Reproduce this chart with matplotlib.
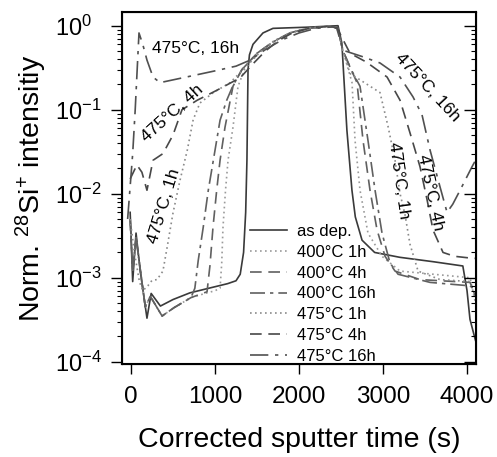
import matplotlib
matplotlib.use('Agg')
import matplotlib.pyplot as plt

plt.rcParams['font.family'] = ['Liberation Sans', 'DejaVu Sans']
plt.rcParams['mathtext.fontset'] = 'custom'
plt.rcParams['mathtext.rm'] = 'Liberation Sans'
plt.rcParams['mathtext.default'] = 'regular'
plt.rcParams['axes.unicode_minus'] = False

# sputter time (s) and normalised 28Si+ intensity
t_asdep = [-10, 20, 60, 110, 190, 240, 350, 500, 700, 950, 1150, 1250, 1300, 1340, 1365,
           1380, 1393, 1410, 1452, 1571, 1690, 2095, 2464, 2510, 2570, 2630, 2670, 2750,
           2900, 3200, 3600, 3950, 4000, 4035, 4100]
y_asdep = [6e-3, 9e-4, 3.4e-3, 1.2e-3, 3.3e-4, 6.5e-4, 4.6e-4, 5.5e-4, 6.6e-4, 7.6e-4, 8.5e-4,
           9.2e-4, 1.1e-3, 2e-3, 6e-3, 0.025, 0.3, 0.45, 0.6, 0.82, 0.93, 0.96, 1.0, 0.62,
           0.057, 0.011, 5.3e-3, 2.8e-3, 2.0e-3, 1.75e-3, 1.55e-3, 1.38e-3, 7e-4, 3.2e-4, 1.8e-4]

t_400_1h = [-10, 20, 60, 100, 170, 230, 370, 512, 714, 905, 1000, 1060, 1080, 1095, 1125, 1155,
            1214, 1274, 1350, 1500, 1690, 1890, 2100, 2330, 2460, 2524, 2631, 2667, 2726, 2821,
            2988, 3202, 4036, 4100]
y_400_1h = [5e-3, 1.2e-3, 3e-3, 1.5e-3, 4.5e-4, 6e-4, 3.5e-4, 4.4e-4, 5.8e-4, 6.6e-4, 7e-4,
            7.5e-4, 1.5e-3, 4e-3, 0.011, 0.025, 0.062, 0.19, 0.3, 0.47, 0.64, 0.82, 0.93, 0.98,
            0.96, 0.5, 0.21, 0.043, 0.011, 3.4e-3, 1.8e-3, 1.2e-3, 1e-3, 5e-4]

t_400_4h = [-10, 20, 60, 100, 170, 230, 370, 512, 714, 905, 940, 976, 1020, 1060, 1119, 1214,
            1320, 1500, 1690, 1890, 2100, 2330, 2460, 2524, 2690, 2762, 2845, 2929, 3024, 3143,
            3440, 4036, 4100]
y_400_4h = [5e-3, 1.2e-3, 3e-3, 1.5e-3, 4.5e-4, 6e-4, 3.5e-4, 4.4e-4, 5.8e-4, 6.8e-4, 1.4e-3,
            4e-3, 0.011, 0.025, 0.062, 0.19, 0.3, 0.47, 0.64, 0.82, 0.93, 0.98, 0.95, 0.5, 0.21,
            0.043, 0.011, 3.7e-3, 1.8e-3, 1.2e-3, 9.5e-4, 8.8e-4, 6e-4]

t_400_16h = [-10, 20, 60, 100, 170, 230, 370, 512, 714, 760, 800, 860, 920, 980, 1060, 1140,
             1210, 1320, 1500, 1690, 1890, 2100, 2330, 2460, 2524, 2620, 2726, 2821, 2905, 2988,
             3083, 3179, 3560, 4036, 4100]
y_400_16h = [5e-3, 1.2e-3, 3e-3, 1.5e-3, 4.5e-4, 6e-4, 3.5e-4, 4.4e-4, 5.8e-4, 7.5e-4, 1.6e-3,
             4e-3, 0.011, 0.025, 0.075, 0.13, 0.19, 0.3, 0.47, 0.64, 0.82, 0.93, 0.98, 0.93, 0.5,
             0.3, 0.19, 0.043, 0.011, 3.4e-3, 1.5e-3, 1.1e-3, 8.8e-4, 8e-4, 7e-4]

t_475_1h = [-10, 40, 100, 140, 200, 250, 310, 380, 430, 500, 580, 670, 740, 820, 980, 1180,
            1400, 1550, 1700, 1890, 2100, 2330, 2450, 2524, 2607, 2964, 3060, 3143, 3202, 3262,
            3321, 3417, 3679, 4036]
y_475_1h = [5e-3, 2e-3, 9e-4, 7e-4, 8e-4, 9.3e-4, 9.5e-4, 1.2e-3, 2.3e-3, 5.9e-3, 0.014, 0.033,
            0.076, 0.12, 0.16, 0.21, 0.35, 0.5, 0.66, 0.82, 0.93, 0.98, 0.95, 0.5, 0.27, 0.16,
            0.063, 0.025, 0.0101, 0.0056, 0.0025, 0.0012, 9.5e-4, 9e-4]

t_475_4h = [-10, 70, 130, 190, 262, 380, 500, 607, 790, 1020, 1300, 1450, 1600, 1750, 1900,
            2100, 2330, 2450, 2607, 2800, 3048, 3202, 3321, 3440, 3524, 3595, 3714, 3850, 4071,
            4100]
y_475_4h = [0.015, 0.022, 0.018, 0.011, 0.025, 0.03, 0.05, 0.1, 0.13, 0.17, 0.24, 0.35, 0.5,
            0.66, 0.8, 0.92, 0.98, 0.95, 0.47, 0.37, 0.245, 0.13, 0.053, 0.021, 0.0085, 0.0037,
            0.002, 0.0018, 0.0017, 0.0017]

t_475_16h = [-40, 20, 50, 95, 140, 190, 262, 345, 700, 1000, 1250, 1420, 1600, 1800, 2000,
             2200, 2400, 2450, 2524, 2750, 2964, 3202, 3357, 3464, 3560, 3679, 3762, 3830, 3917,
             4060, 4110]
y_475_16h = [0.005, 0.03, 0.1, 0.82, 0.6, 0.39, 0.245, 0.21, 0.25, 0.29, 0.33, 0.39, 0.52, 0.68,
             0.82, 0.93, 0.97, 0.93, 0.51, 0.43, 0.36, 0.245, 0.142, 0.087, 0.033, 0.012, 0.006,
             0.0075, 0.011, 0.021, 0.026]

series = [
    ('as dep.', t_asdep, y_asdep, '-', '#3a3a3a'),
    ('400°C 1h', t_400_1h, y_400_1h, (0, (1, 2)), '#9a9a9a'),
    ('400°C 4h', t_400_4h, y_400_4h, (0, (7, 4)), '#606060'),
    ('400°C 16h', t_400_16h, y_400_16h, (0, (9, 3, 2, 3)), '#606060'),
    ('475°C 1h', t_475_1h, y_475_1h, (0, (1, 2)), '#8a8a8a'),
    ('475°C 4h', t_475_4h, y_475_4h, (0, (7, 4)), '#484848'),
    ('475°C 16h', t_475_16h, y_475_16h, (0, (11, 4, 2, 4)), '#505050'),
]

fig = plt.figure(figsize=(4.97, 4.57), dpi=100)
ax = fig.add_axes([0.2455, 0.2035, 0.7123, 0.7702])

for name, t, y, ls, col in series:
    ax.plot(t, y, linestyle=ls, color=col, lw=1.2, label=name)

ax.set_yscale('log')
ax.set_xlim(-107, 4107)
ax.set_ylim(10 ** -4.027, 10 ** 0.163)
ax.set_xticks([0, 1000, 2000, 3000, 4000])

for s in ax.spines.values():
    s.set_linewidth(1.5)

ax.tick_params(axis='x', which='major', direction='out', length=7, width=1, labelsize=17.5, pad=9)
ax.tick_params(axis='y', which='major', direction='out', length=8, width=1, labelsize=17, pad=40)
ax.tick_params(axis='y', which='minor', direction='out', length=3.5, width=0.8)
plt.setp(ax.get_yticklabels(), ha='left')

# inward ticks on the right side
ax2 = ax.twinx()
ax2.set_yscale('log')
ax2.set_ylim(ax.get_ylim())
ax2.tick_params(axis='y', which='major', direction='in', length=9, width=1, labelright=False)
ax2.tick_params(axis='y', which='minor', direction='in', length=3.5, width=0.8)

ax.set_xlabel('Corrected sputter time (s)', fontsize=20.5)
ax.xaxis.set_label_coords(0.5, -0.18)
ax.set_ylabel('Norm. $^{28}$Si$^{+}$ intensitiy', fontsize=20.5)
ax.yaxis.set_label_coords(-0.205, 0.5)

ax.legend(loc='upper left', bbox_to_anchor=(0.362, 0.398), frameon=False, fontsize=12,
          borderpad=0, borderaxespad=0, labelspacing=0.35, handlelength=2.2, handletextpad=0.6)

lab = dict(fontsize=12.5, ha='center', va='center', rotation_mode='anchor')
ax.text(774, 0.54, '475°C, 16h', rotation=0, **lab)
ax.text(488, 0.091, '475°C, 4h', rotation=42, **lab)
ax.text(393, 0.0071, '475°C, 1h', rotation=73, **lab)
ax.text(3524, 0.186, '475°C, 16h', rotation=-47, **lab)
ax.text(3190, 0.0145, '475°C, 1h', rotation=-82, **lab)
ax.text(3560, 0.0104, '475°C, 4h', rotation=-78, **lab)

fig.savefig('out.png', dpi=100)
